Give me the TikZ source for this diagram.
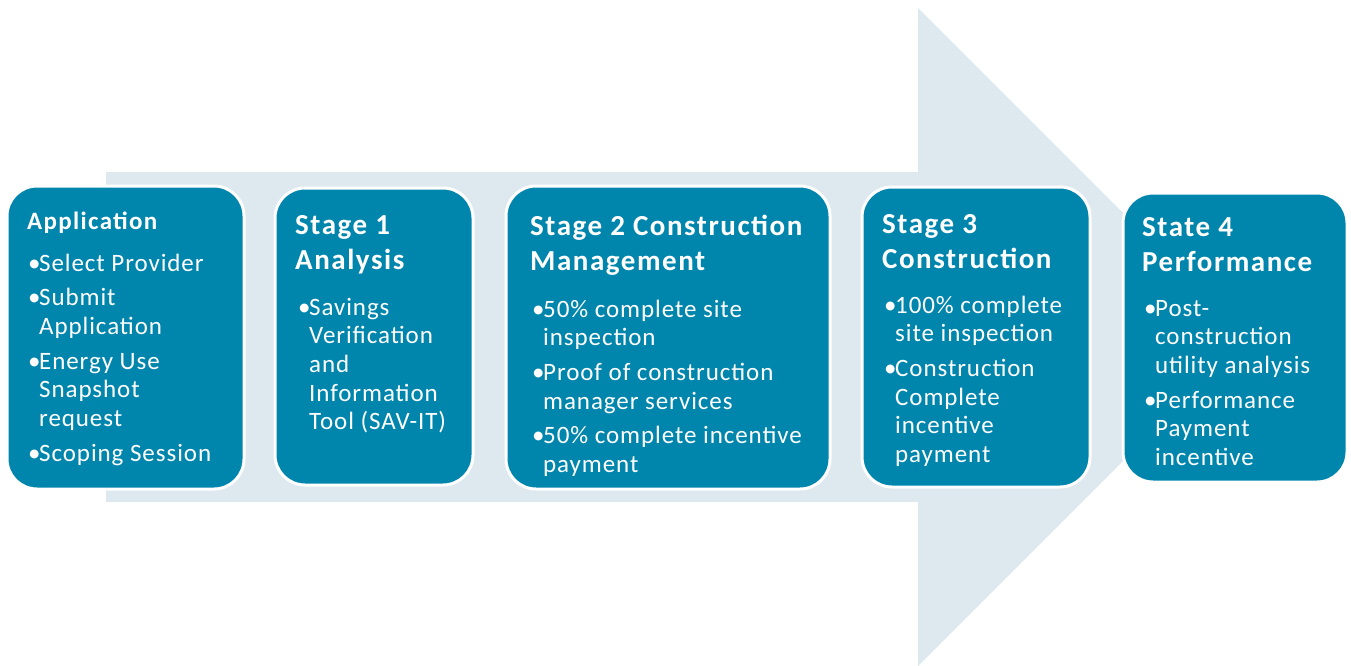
\documentclass[tikz,border=0pt]{standalone}
\usepackage{fontspec}
\setmainfont{Carlito}
\newfontfamily\bodyfont[LetterSpace=3.7]{Carlito}
\newfontfamily\headfont[LetterSpace=5.3]{Carlito}
\usetikzlibrary{calc}
\definecolor{boxblue}{RGB}{0,133,173}
\definecolor{arrowbg}{RGB}{221,233,239}
\newcommand{\bitem}[1]{\makebox[11pt][l]{•}#1}
\newcommand{\cont}[1]{\hspace*{11pt}#1}
\newcommand{\lines}[1]{\begin{tabular}[t]{@{}l@{}}#1\end{tabular}}
\begin{document}
\begin{tikzpicture}[x=1pt,y=-1pt,
  stagebox/.style={draw=white, line width=3pt, fill=boxblue, rounded corners=30pt, inner sep=0pt},
  titletext/.style={text=white, font=\headfont\fontsize{29}{35}\selectfont\bfseries, inner sep=0pt, anchor=base west},
  smalltitle/.style={titletext, font=\headfont\fontsize{25}{30}\selectfont\bfseries},
  bullettext/.style={text=white, font=\bodyfont\fontsize{25}{28.7}\selectfont, inner sep=0pt, anchor=base west}]
\path[use as bounding box] (0,0) rectangle (1351,666);
% big background arrow
\fill[arrowbg] (106,172) -- (918,172) -- (918,8) -- (1247,337) -- (918,666) -- (918,502) -- (106,502) -- cycle;
% boxes
\node[stagebox, minimum width=237pt, minimum height=303pt] (app) at (125.5,337.5) {};
\node[stagebox, minimum width=198pt, minimum height=297pt] (s1) at (374,336.5) {};
\node[stagebox, minimum width=324pt, minimum height=303pt] (s2) at (668,337.5) {};
\node[stagebox, minimum width=228pt, minimum height=300pt] (s3) at (976,337) {};
\node[stagebox, minimum width=224pt, minimum height=289pt] (s4) at (1235,337.5) {};
% Application
\node[smalltitle] (appt) at (27,229) {Application};
\node[bullettext] (appb) at (28,271) {\lines{\bitem{Select Provider}\\[6pt]
  \bitem{Submit}\\ \cont{Application}\\[6pt]
  \bitem{Energy Use}\\ \cont{Snapshot}\\ \cont{request}\\[6pt]
  \bitem{Scoping Session}}};
% Stage 1
\node[titletext] (s1t) at (295,234) {\lines{Stage 1\\Analysis}};
\node[bullettext] (s1b) at (298,315) {\lines{\bitem{Savings}\\ \cont{Verification}\\ \cont{and}\\ \cont{Information}\\ \cont{Tool (SAV-IT)}}};
% Stage 2
\node[titletext] (s2t) at (530,235) {\lines{Stage 2 Construction\\Management}};
\node[bullettext] (s2b) at (532,317) {\lines{\bitem{50\% complete site}\\ \cont{inspection}\\[6pt]
  \bitem{Proof of construction}\\ \cont{manager services}\\[6pt]
  \bitem{50\% complete incentive}\\ \cont{payment}}};
% Stage 3
\node[titletext] (s3t) at (882,233) {\lines{Stage 3\\Construction}};
\node[bullettext] (s3b) at (884,313) {\lines{\bitem{100\% complete}\\ \cont{site inspection}\\[6pt]
  \bitem{Construction}\\ \cont{Complete}\\ \cont{incentive}\\ \cont{payment}}};
% State 4
\node[titletext] (s4t) at (1142,236) {\lines{State 4\\Performance}};
\node[bullettext] (s4b) at (1144,316) {\lines{\bitem{Post-}\\ \cont{construction}\\ \cont{utility analysis}\\[6pt]
  \bitem{Performance}\\ \cont{Payment}\\ \cont{incentive}}};
\end{tikzpicture}
\end{document}
